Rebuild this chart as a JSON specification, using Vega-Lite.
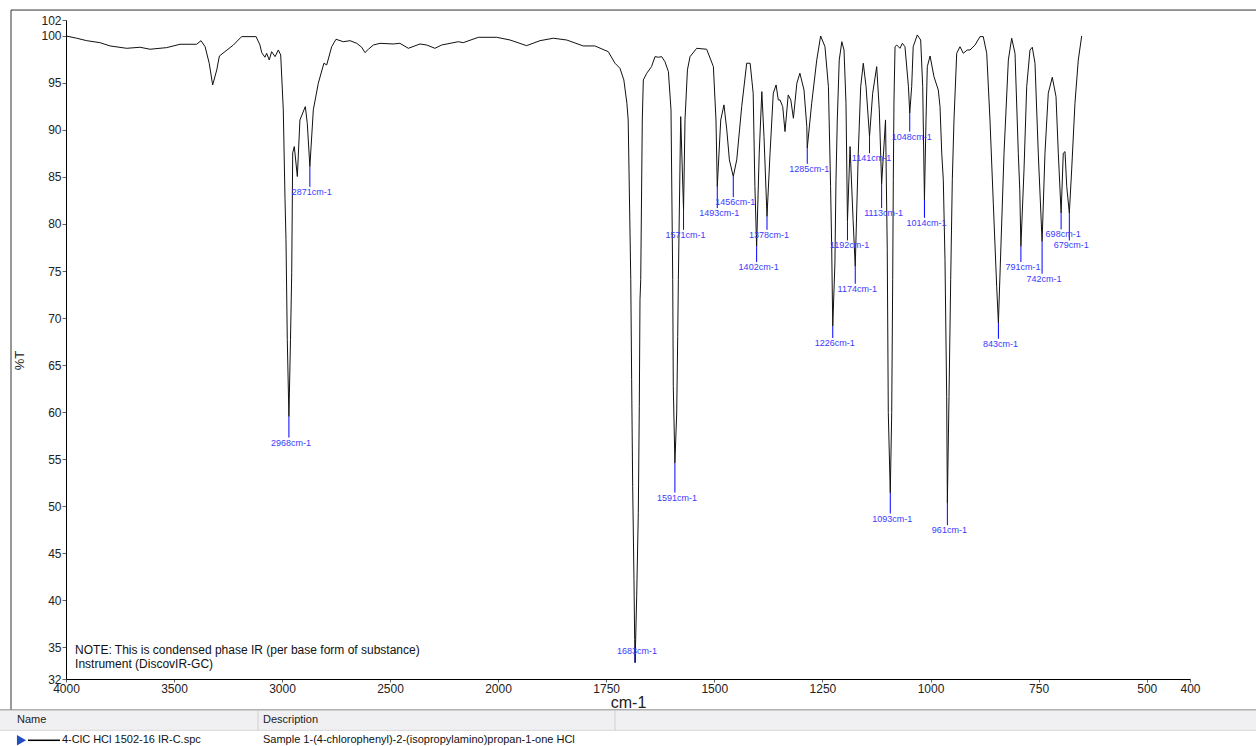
{
  "$schema": "https://vega.github.io/schema/vega-lite/v6.json",
  "autosize": {"type": "none"},
  "width": 1124,
  "height": 659,
  "padding": {"left": 66, "top": 20, "right": 66, "bottom": 67},
  "background": "white",
  "config": {"view": {"stroke": null}},
  "datasets": {
    "spec": [
      {"wn":4000,"t":100.0},{"wn":3950.5,"t":99.76},{"wn":3904,"t":99.5},{"wn":3843,"t":99.29},{"wn":3796,"t":98.94},{"wn":3719,"t":98.69},{"wn":3657,"t":98.8},{"wn":3611,"t":98.59},{"wn":3534,"t":98.76},{"wn":3472,"t":99.12},{"wn":3395,"t":99.12},{"wn":3375,"t":99.5},{"wn":3356,"t":98.86},{"wn":3337,"t":97.1},{"wn":3321,"t":94.79},{"wn":3302,"t":96.39},{"wn":3290,"t":97.87},{"wn":3225,"t":99.04},{"wn":3187,"t":99.93},{"wn":3120,"t":99.93},{"wn":3102,"t":99.04},{"wn":3094,"t":98.23},{"wn":3079,"t":97.74},{"wn":3071,"t":98.16},{"wn":3059,"t":97.45},{"wn":3048,"t":98.33},{"wn":3032,"t":97.8},{"wn":3017,"t":98.51},{"wn":3006,"t":97.98},{"wn":2994,"t":92.14},{"wn":2986,"t":82.57},{"wn":2981.5,"t":78.32},{"wn":2975.5,"t":67.69},{"wn":2968,"t":59.51},{"wn":2960.7,"t":67.69},{"wn":2955,"t":74.81},{"wn":2950.5,"t":87.57},{"wn":2943,"t":88.24},{"wn":2929,"t":85.05},{"wn":2917,"t":91.07},{"wn":2892,"t":92.49},{"wn":2883,"t":90.72},{"wn":2871,"t":86.11},{"wn":2855,"t":92.14},{"wn":2832,"t":94.97},{"wn":2806,"t":97.1},{"wn":2793,"t":96.92},{"wn":2770,"t":98.86},{"wn":2750,"t":99.65},{"wn":2716,"t":99.39},{"wn":2685,"t":99.5},{"wn":2654,"t":99.22},{"wn":2631,"t":98.8},{"wn":2616,"t":98.23},{"wn":2600,"t":98.59},{"wn":2577,"t":99.04},{"wn":2546,"t":99.22},{"wn":2485,"t":99.15},{"wn":2454,"t":99.22},{"wn":2415,"t":98.69},{"wn":2361,"t":99.15},{"wn":2330,"t":99.04},{"wn":2292,"t":98.69},{"wn":2261,"t":99.04},{"wn":2184,"t":99.39},{"wn":2161,"t":99.29},{"wn":2091,"t":99.86},{"wn":2006,"t":99.86},{"wn":1972,"t":99.57},{"wn":1934,"t":98.97},{"wn":1903,"t":99.5},{"wn":1872,"t":99.76},{"wn":1841,"t":99.57},{"wn":1803,"t":98.94},{"wn":1776,"t":98.94},{"wn":1745,"t":98.33},{"wn":1729.5,"t":97.1},{"wn":1718,"t":96.57},{"wn":1709,"t":95.32},{"wn":1702,"t":92.85},{"wn":1699,"t":91.07},{"wn":1693,"t":74.07},{"wn":1691,"t":63.44},{"wn":1688.6,"t":52.1},{"wn":1685.6,"t":42.19},{"wn":1684,"t":35.81},{"wn":1683,"t":33.34},{"wn":1679.3,"t":40.41},{"wn":1675.6,"t":49.28},{"wn":1673.3,"t":60.61},{"wn":1671.7,"t":71.94},{"wn":1670,"t":74.07},{"wn":1666.4,"t":91.07},{"wn":1664,"t":95.32},{"wn":1656,"t":96.04},{"wn":1645,"t":96.74},{"wn":1637,"t":97.8},{"wn":1629,"t":97.74},{"wn":1621.5,"t":97.8},{"wn":1614,"t":97.27},{"wn":1606,"t":96.21},{"wn":1600,"t":92.14},{"wn":1596,"t":74.07},{"wn":1594.7,"t":62.73},{"wn":1591,"t":54.59},{"wn":1586.8,"t":59.9},{"wn":1584.5,"t":68.04},{"wn":1583,"t":74.07},{"wn":1577.6,"t":91.42},{"wn":1571,"t":81.51},{"wn":1567.6,"t":91.07},{"wn":1562,"t":96.39},{"wn":1556,"t":97.8},{"wn":1540.6,"t":98.69},{"wn":1517.5,"t":98.59},{"wn":1502,"t":96.74},{"wn":1496,"t":91.07},{"wn":1493,"t":83.98},{"wn":1485,"t":91.07},{"wn":1477.5,"t":92.67},{"wn":1471,"t":90.01},{"wn":1465,"t":86.82},{"wn":1456,"t":85.05},{"wn":1448,"t":86.82},{"wn":1436.5,"t":92.49},{"wn":1425,"t":97.1},{"wn":1417,"t":97.1},{"wn":1410,"t":93.91},{"wn":1406,"t":83.98},{"wn":1402,"t":77.61},{"wn":1396,"t":87.53},{"wn":1390,"t":94.08},{"wn":1385,"t":89.3},{"wn":1378,"t":80.8},{"wn":1371,"t":87.53},{"wn":1363.5,"t":93.91},{"wn":1357,"t":94.79},{"wn":1352,"t":93.2},{"wn":1348,"t":93.2},{"wn":1341.7,"t":92.49},{"wn":1336.4,"t":89.83},{"wn":1329,"t":93.73},{"wn":1323,"t":93.2},{"wn":1317,"t":91.25},{"wn":1309,"t":94.97},{"wn":1302,"t":96.04},{"wn":1292.5,"t":94.26},{"wn":1286,"t":90.36},{"wn":1285,"t":88.07},{"wn":1274.7,"t":92.85},{"wn":1263,"t":97.45},{"wn":1254,"t":100.0},{"wn":1244,"t":98.86},{"wn":1236,"t":94.61},{"wn":1231,"t":83.98},{"wn":1228.5,"t":77.61},{"wn":1226,"t":69.11},{"wn":1221,"t":75.84},{"wn":1218.5,"t":84.7},{"wn":1215.5,"t":91.07},{"wn":1211,"t":97.45},{"wn":1205,"t":99.39},{"wn":1200,"t":98.51},{"wn":1195.4,"t":92.85},{"wn":1192,"t":80.27},{"wn":1186,"t":88.24},{"wn":1179,"t":80.45},{"wn":1174,"t":75.48},{"wn":1167,"t":87.53},{"wn":1161.4,"t":94.61},{"wn":1155.4,"t":97.1},{"wn":1149,"t":94.61},{"wn":1141,"t":89.3},{"wn":1133.7,"t":93.91},{"wn":1124.4,"t":96.74},{"wn":1118.4,"t":92.14},{"wn":1113,"t":84.27},{"wn":1104,"t":91.07},{"wn":1100,"t":77.26},{"wn":1097.6,"t":59.94},{"wn":1093,"t":51.4},{"wn":1089.7,"t":59.94},{"wn":1087.4,"t":74.07},{"wn":1086,"t":84.7},{"wn":1084.4,"t":93.2},{"wn":1082,"t":98.86},{"wn":1078,"t":99.04},{"wn":1070.5,"t":98.69},{"wn":1065,"t":99.22},{"wn":1059,"t":98.86},{"wn":1051,"t":94.61},{"wn":1048,"t":91.79},{"wn":1043.5,"t":94.61},{"wn":1040,"t":98.86},{"wn":1030.5,"t":100.11},{"wn":1022.7,"t":99.57},{"wn":1018,"t":94.61},{"wn":1014,"t":82.57},{"wn":1010.4,"t":91.07},{"wn":1007.4,"t":96.74},{"wn":1001,"t":97.87},{"wn":992,"t":95.67},{"wn":982,"t":94.26},{"wn":978,"t":92.49},{"wn":974,"t":87.53},{"wn":970.4,"t":84.7},{"wn":966.5,"t":76.2},{"wn":962.6,"t":61.67},{"wn":961,"t":50.34},{"wn":957.2,"t":61.67},{"wn":953.3,"t":74.07},{"wn":949.6,"t":84.7},{"wn":945.7,"t":91.07},{"wn":939.4,"t":98.16},{"wn":931.8,"t":98.86},{"wn":924.2,"t":98.16},{"wn":915,"t":98.51},{"wn":908.7,"t":98.51},{"wn":897,"t":99.04},{"wn":885.6,"t":99.93},{"wn":878,"t":99.93},{"wn":870,"t":98.16},{"wn":862.5,"t":91.07},{"wn":854.8,"t":82.22},{"wn":847,"t":73.36},{"wn":843,"t":69.47},{"wn":837.7,"t":76.91},{"wn":830,"t":87.53},{"wn":820,"t":97.45},{"wn":812.3,"t":99.76},{"wn":804.6,"t":98.16},{"wn":797,"t":87.53},{"wn":793.6,"t":83.63},{"wn":791,"t":77.61},{"wn":783.8,"t":85.76},{"wn":777.6,"t":94.61},{"wn":770,"t":98.51},{"wn":764.6,"t":98.8},{"wn":758.4,"t":97.1},{"wn":750.8,"t":87.53},{"wn":742,"t":78.14},{"wn":735.3,"t":87.53},{"wn":727.7,"t":93.91},{"wn":718.4,"t":95.61},{"wn":709.8,"t":93.55},{"wn":704.5,"t":87.53},{"wn":698,"t":81.16},{"wn":693,"t":87.53},{"wn":689,"t":87.7},{"wn":685,"t":83.98},{"wn":679,"t":81.16},{"wn":673.6,"t":85.76},{"wn":666,"t":92.85},{"wn":658.3,"t":97.45},{"wn":650.4,"t":100.0}
    ],
    "peaks": [
      {"lab":"2968cm-1","wn":2968,"t":59.51,"t2":57.28},
      {"lab":"2871cm-1","wn":2871,"t":86.11,"t2":83.95},
      {"lab":"1683cm-1","wn":1683,"t":33.34,"t2":35.07},
      {"lab":"1591cm-1","wn":1591,"t":54.59,"t2":51.43},
      {"lab":"1571cm-1","wn":1571,"t":81.51,"t2":79.38},
      {"lab":"1493cm-1","wn":1493,"t":83.98,"t2":81.69},
      {"lab":"1456cm-1","wn":1456,"t":85.05,"t2":82.86},
      {"lab":"1402cm-1","wn":1402,"t":77.61,"t2":75.95},
      {"lab":"1378cm-1","wn":1378,"t":80.8,"t2":79.38},
      {"lab":"1285cm-1","wn":1285,"t":88.07,"t2":86.4},
      {"lab":"1226cm-1","wn":1226,"t":69.11,"t2":67.87},
      {"lab":"1192cm-1","wn":1192,"t":80.27,"t2":78.25},
      {"lab":"1174cm-1","wn":1174,"t":75.48,"t2":73.64},
      {"lab":"1141cm-1","wn":1141,"t":89.3,"t2":87.53},
      {"lab":"1113cm-1","wn":1113,"t":84.27,"t2":81.69},
      {"lab":"1093cm-1","wn":1093,"t":51.4,"t2":49.2},
      {"lab":"1048cm-1","wn":1048,"t":91.79,"t2":89.83},
      {"lab":"1014cm-1","wn":1014,"t":82.57,"t2":80.66},
      {"lab":"961cm-1","wn":961,"t":50.34,"t2":47.96},
      {"lab":"843cm-1","wn":843,"t":69.47,"t2":67.8},
      {"lab":"791cm-1","wn":791,"t":77.61,"t2":75.95},
      {"lab":"742cm-1","wn":742,"t":78.14,"t2":74.71},
      {"lab":"698cm-1","wn":698,"t":81.16,"t2":79.42},
      {"lab":"679cm-1","wn":679,"t":81.16,"t2":78.25}
    ],
    "one": [{"id": 1}]
  },
  "layer": [
    {
      "data": {"name": "spec"},
      "mark": {"type": "line", "color": "#111111", "strokeWidth": 1, "interpolate": "linear"},
      "encoding": {
        "x": {
          "field": "wn", "type": "quantitative",
          "scale": {"domain": [4000, 2000, 400], "range": [0, 432, 1124], "zero": false, "nice": false},
          "axis": {
            "values": [4000, 3500, 3000, 2500, 2000, 1750, 1500, 1250, 1000, 750, 500, 400],
            "format": "d", "grid": false, "labelFlush": false, "labelOverlap": false,
            "labelFont": "Liberation Sans", "labelFontSize": 12, "labelColor": "#222222", "labelPadding": 1,
            "tickSize": 3, "tickColor": "#666666", "domainColor": "#000000",
            "title": "cm-1", "titleFont": "Liberation Sans", "titleFontSize": 16, "titleFontWeight": "normal",
            "titleColor": "#222222", "titlePadding": 0
          }
        },
        "y": {
          "field": "t", "type": "quantitative",
          "scale": {"domain": [31.6, 101.7], "zero": false, "nice": false},
          "axis": {
            "values": [31.6, 35, 40, 45, 50, 55, 60, 65, 70, 75, 80, 85, 90, 95, 100, 101.7],
            "labelExpr": "datum.value < 32 ? '32' : (datum.value > 101 ? '102' : datum.label)",
            "grid": false, "labelOverlap": false, "labelFont": "Liberation Sans", "labelFontSize": 12,
            "labelColor": "#222222", "labelPadding": 1, "tickSize": 4, "tickColor": "#666666",
            "domainColor": "#000000",
            "title": "%T", "titleFont": "Liberation Sans", "titleFontSize": 13, "titleFontWeight": "normal",
            "titleColor": "#222222", "titleX": -40, "titleY": 340
          }
        }
      }
    },
    {
      "data": {"name": "peaks"},
      "mark": {"type": "rule", "color": "#0000ff", "strokeWidth": 1},
      "encoding": {
        "x": {"field": "wn", "type": "quantitative"},
        "y": {"field": "t", "type": "quantitative"},
        "y2": {"field": "t2"}
      }
    },
    {
      "data": {"name": "peaks"},
      "mark": {"type": "text", "align": "center", "baseline": "top", "dx": 2, "dy": 1, "font": "Liberation Sans", "fontSize": 9, "color": "#3a3aff"},
      "encoding": {
        "x": {"field": "wn", "type": "quantitative"},
        "y": {"field": "t2", "type": "quantitative"},
        "text": {"field": "lab"}
      }
    },
    {
      "data": {"name": "one"},
      "mark": {"type": "rule", "color": "#333333", "strokeWidth": 1},
      "encoding": {
        "x": {"datum": 4254.6, "type": "quantitative"},
        "y": {"datum": 102.76, "type": "quantitative"},
        "y2": {"datum": 28.32}
      }
    },
    {
      "data": {"name": "one"},
      "mark": {"type": "rule", "color": "#333333", "strokeWidth": 1},
      "encoding": {
        "x": {"datum": 4254.6, "type": "quantitative"},
        "x2": {"datum": 247.4},
        "y": {"datum": 102.76, "type": "quantitative"}
      }
    },
    {
      "data": {"name": "one"},
      "mark": {"type": "rect", "color": "#f0f0f2"},
      "encoding": {
        "x": {"datum": 4305.6, "type": "quantitative"},
        "x2": {"datum": 247.4},
        "y": {"datum": 28.27, "type": "quantitative"},
        "y2": {"datum": 26.14}
      }
    },
    {
      "data": {"name": "one"},
      "mark": {"type": "rule", "color": "#8a8a8a", "strokeWidth": 1},
      "encoding": {
        "x": {"datum": 4305.6, "type": "quantitative"},
        "x2": {"datum": 247.4},
        "y": {"datum": 28.32, "type": "quantitative"}
      }
    },
    {
      "data": {"name": "one"},
      "mark": {"type": "rule", "color": "#d8d8d8", "strokeWidth": 1},
      "encoding": {
        "x": {"datum": 4305.6, "type": "quantitative"},
        "x2": {"datum": 247.4},
        "y": {"datum": 26.14, "type": "quantitative"}
      }
    },
    {
      "data": {"name": "one"},
      "mark": {"type": "rule", "color": "#d0d0d0", "strokeWidth": 1},
      "encoding": {
        "x": {"datum": 3111, "type": "quantitative"},
        "y": {"datum": 28.27, "type": "quantitative"},
        "y2": {"datum": 26.14}
      }
    },
    {
      "data": {"name": "one"},
      "mark": {"type": "rule", "color": "#d0d0d0", "strokeWidth": 1},
      "encoding": {
        "x": {"datum": 1729.5, "type": "quantitative"},
        "y": {"datum": 28.27, "type": "quantitative"},
        "y2": {"datum": 26.14}
      }
    },
    {
      "data": {"name": "one"},
      "mark": {"type": "text", "text": "Name", "align": "left", "baseline": "middle", "font": "Liberation Sans", "fontSize": 11, "color": "#222222"},
      "encoding": {
        "x": {"datum": 4226.9, "type": "quantitative"},
        "y": {"datum": 27.2, "type": "quantitative"}
      }
    },
    {
      "data": {"name": "one"},
      "mark": {"type": "text", "text": "Description", "align": "left", "baseline": "middle", "font": "Liberation Sans", "fontSize": 11, "color": "#222222"},
      "encoding": {
        "x": {"datum": 3088, "type": "quantitative"},
        "y": {"datum": 27.2, "type": "quantitative"}
      }
    },
    {
      "data": {"name": "one"},
      "mark": {"type": "point", "shape": "triangle-right", "filled": true, "size": 110, "color": "#1f4fc0", "opacity": 1},
      "encoding": {
        "x": {"datum": 4206, "type": "quantitative"},
        "y": {"datum": 25.08, "type": "quantitative"}
      }
    },
    {
      "data": {"name": "one"},
      "mark": {"type": "rule", "color": "#000000", "strokeWidth": 1.5},
      "encoding": {
        "x": {"datum": 4175.9, "type": "quantitative"},
        "x2": {"datum": 4027.8},
        "y": {"datum": 25.08, "type": "quantitative"}
      }
    },
    {
      "data": {"name": "one"},
      "mark": {"type": "text", "text": "4-ClC HCl 1502-16 IR-C.spc", "align": "left", "baseline": "middle", "font": "Liberation Sans", "fontSize": 11, "color": "#111111"},
      "encoding": {
        "x": {"datum": 4018.5, "type": "quantitative"},
        "y": {"datum": 25.08, "type": "quantitative"}
      }
    },
    {
      "data": {"name": "one"},
      "mark": {"type": "text", "text": "Sample 1-(4-chlorophenyl)-2-(isopropylamino)propan-1-one HCl", "align": "left", "baseline": "middle", "font": "Liberation Sans", "fontSize": 11, "color": "#111111"},
      "encoding": {
        "x": {"datum": 3088, "type": "quantitative"},
        "y": {"datum": 25.08, "type": "quantitative"}
      }
    },
    {
      "data": {"name": "one"},
      "mark": {"type": "text", "text": "NOTE: This is condensed phase IR (per base form of substance)", "align": "left", "baseline": "middle", "font": "Liberation Sans", "fontSize": 12, "color": "#111111"},
      "encoding": {
        "x": {"datum": 3958, "type": "quantitative"},
        "y": {"datum": 34.64, "type": "quantitative"}
      }
    },
    {
      "data": {"name": "one"},
      "mark": {"type": "text", "text": "Instrument (DiscovIR-GC)", "align": "left", "baseline": "middle", "font": "Liberation Sans", "fontSize": 12, "color": "#111111"},
      "encoding": {
        "x": {"datum": 3958, "type": "quantitative"},
        "y": {"datum": 33.16, "type": "quantitative"}
      }
    }
  ]
}
